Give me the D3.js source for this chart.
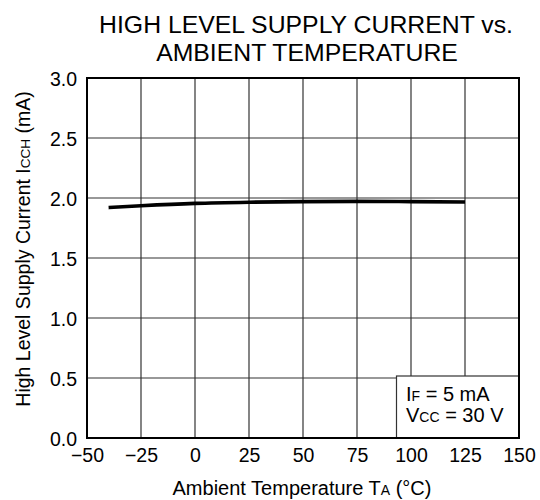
<!DOCTYPE html>
<html><head><meta charset="utf-8">
<script src="https://cdn.jsdelivr.net/npm/d3@7"></script>
<style>body{margin:0;background:#fff}svg{display:block}text{font-family:"Liberation Sans",Arial,sans-serif;fill:#000}</style>
</head><body>
<div id="chart"></div>
<script>
const temps = [-40, -25, 0, 25, 50, 75, 100, 125];
const current = [1.92, 1.935, 1.955, 1.965, 1.97, 1.972, 1.97, 1.967];
const xTicks = [-50, -25, 0, 25, 50, 75, 100, 125, 150];
const yTicks = [0, 0.5, 1.0, 1.5, 2.0, 2.5, 3.0];
const titleLines = ["HIGH LEVEL SUPPLY CURRENT vs.", "AMBIENT TEMPERATURE"];

const W = 540, H = 500;
const m = {left: 87, right: 21, top: 78, bottom: 62};
const svg = d3.select("#chart").append("svg").attr("width", W).attr("height", H);
const x = d3.scaleLinear().domain([-50, 150]).range([m.left, W - m.right]);
const y = d3.scaleLinear().domain([0, 3]).range([H - m.bottom, m.top]);
const FONT = '"Liberation Sans",Arial,sans-serif';

// title
svg.append("text").attr("x", 306).attr("y", 33).attr("text-anchor", "middle")
  .style("font-size", "24.8px").text(titleLines[0]);
svg.append("text").attr("x", 307).attr("y", 61).attr("text-anchor", "middle")
  .style("font-size", "24.8px").text(titleLines[1]);

// grid
const g = svg.append("g");
g.selectAll(".vg").data(xTicks.slice(1, -1)).join("line")
  .attr("x1", d => x(d)).attr("x2", d => x(d)).attr("y1", y(3)).attr("y2", y(0))
  .attr("stroke", "#333").attr("stroke-width", 1.2);
g.selectAll(".hg").data(yTicks.slice(1, -1)).join("line")
  .attr("y1", d => y(d)).attr("y2", d => y(d)).attr("x1", x(-50)).attr("x2", x(150))
  .attr("stroke", "#333").attr("stroke-width", 1.2);

// legend box
const bx = 396.5, by = 376;
svg.append("rect").attr("x", bx).attr("y", by).attr("width", x(150) - bx).attr("height", y(0) - by)
  .attr("fill", "#fff").attr("stroke", "#333").attr("stroke-width", 1.2);
const l1 = svg.append("text").attr("x", 406).attr("y", 401).style("font-size", "20px");
l1.append("tspan").text("I");
l1.append("tspan").style("font-size", "14px").text("F");
l1.append("tspan").text(" = 5 mA");
const l2 = svg.append("text").attr("x", 406).attr("y", 422).style("font-size", "20px");
l2.append("tspan").text("V");
l2.append("tspan").style("font-size", "14px").text("CC");
l2.append("tspan").text(" = 30 V");

// frame
svg.append("rect").attr("x", x(-50)).attr("y", y(3)).attr("width", x(150) - x(-50)).attr("height", y(0) - y(3))
  .attr("fill", "none").attr("stroke", "#000").attr("stroke-width", 2);

// axes labels
const xAxis = d3.axisBottom(x).tickValues(xTicks).tickSize(0).tickPadding(0).tickFormat(d => d < 0 ? "\u2212" + Math.abs(d) : d);
const xa = svg.append("g").attr("transform", `translate(0,${y(0)})`).call(xAxis);
xa.select(".domain").remove();
xa.selectAll("text").attr("y", 23.5).attr("dy", null).style("font-size", "19.5px").attr("fill", "#000")
  .style("font-family", FONT);

const yAxis = d3.axisLeft(y).tickValues(yTicks).tickSize(0).tickPadding(10).tickFormat(d3.format(".1f"));
const ya = svg.append("g").attr("transform", `translate(${x(-50)},0)`).call(yAxis);
ya.select(".domain").remove();
ya.selectAll("text").attr("dy", "0.36em").style("font-size", "19.5px").attr("fill", "#000")
  .style("font-family", FONT);

const xl = svg.append("text").attr("x", 302).attr("y", 495).attr("text-anchor", "middle").style("font-size", "20px");
xl.append("tspan").text("Ambient Temperature T");
xl.append("tspan").style("font-size", "14px").text("A");
xl.append("tspan").text(" (\u00B0C)");

const yl = svg.append("text").attr("transform", "translate(29.5,249) rotate(-90)").attr("text-anchor", "middle").style("font-size", "19.5px");
yl.append("tspan").text("High Level Supply Current I");
yl.append("tspan").style("font-size", "13.5px").text("CCH");
yl.append("tspan").text(" (mA)");

// curve
const line = d3.line().x((d, i) => x(temps[i])).y(d => y(d)).curve(d3.curveMonotoneX);
svg.append("path").datum(current).attr("d", line).attr("fill", "none").attr("stroke", "#000").attr("stroke-width", 3.6);
</script>
</body></html>
